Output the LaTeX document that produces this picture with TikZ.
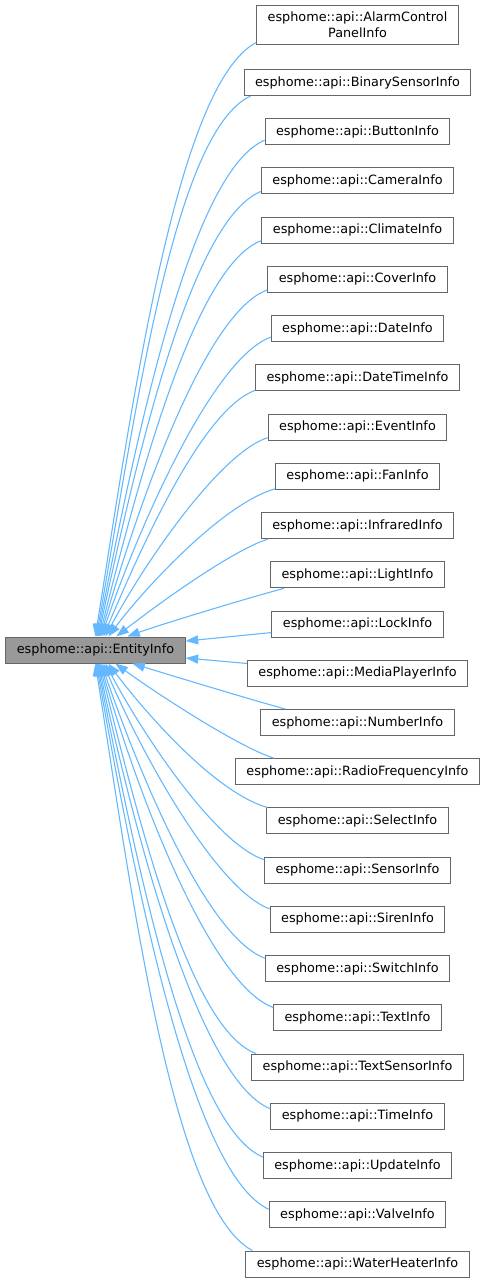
\documentclass[tikz,border=0pt]{standalone}
\usepackage{fontspec}
\setmainfont{DejaVu Sans}
\usepackage{xcolor}
\usepackage{tikz}
\usetikzlibrary{positioning, arrows.meta}
\definecolor{edgeblue}{HTML}{63B8FF}
\definecolor{boxgray}{HTML}{666666}
\definecolor{basefill}{HTML}{999999}

\begin{document}
\begin{tikzpicture}[x=1pt, y=1pt, font=\fontsize{12.8}{15.5}\selectfont, node distance=22.23pt,
  infobox/.style={draw=boxgray, fill=white, line width=1pt, inner xsep=11pt, inner ysep=3pt,
    minimum height=26pt, align=center},
  basebox/.style={infobox, fill=basefill},
  inherit/.style={edgeblue, line width=1.1pt, -{Triangle[length=12.5pt, width=9pt]}}]
  \useasboundingbox (0,0) rectangle (487,-1285);

  % derived classes, one column
  \node[infobox, minimum height=39pt] (alarm) at (357.5,-24.5) {esphome::api::AlarmControl\\PanelInfo};
  \node[infobox, below=24.5pt of alarm] (binary) {esphome::api::BinarySensorInfo};
  \node[infobox, below=of binary] (button) {esphome::api::ButtonInfo};
  \node[infobox, below=of button] (camera) {esphome::api::CameraInfo};
  \node[infobox, below=of camera] (climate) {esphome::api::ClimateInfo};
  \node[infobox, below=of climate] (cover) {esphome::api::CoverInfo};
  \node[infobox, below=of cover] (date) {esphome::api::DateInfo};
  \node[infobox, below=of date] (datetime) {esphome::api::DateTimeInfo};
  \node[infobox, below=of datetime] (event) {esphome::api::EventInfo};
  \node[infobox, below=of event] (fan) {esphome::api::FanInfo};
  \node[infobox, below=of fan] (infrared) {esphome::api::InfraredInfo};
  \node[infobox, below=of infrared] (light) {esphome::api::LightInfo};
  \node[infobox, below=of light] (lock) {esphome::api::LockInfo};
  \node[infobox, below=of lock] (media) {esphome::api::MediaPlayerInfo};
  \node[infobox, below=of media] (number) {esphome::api::NumberInfo};
  \node[infobox, below=of number] (radio) {esphome::api::RadioFrequencyInfo};
  \node[infobox, below=of radio] (select) {esphome::api::SelectInfo};
  \node[infobox, below=of select] (sensor) {esphome::api::SensorInfo};
  \node[infobox, below=of sensor] (siren) {esphome::api::SirenInfo};
  \node[infobox, below=of siren] (switch) {esphome::api::SwitchInfo};
  \node[infobox, below=of switch] (text) {esphome::api::TextInfo};
  \node[infobox, below=of text] (textsensor) {esphome::api::TextSensorInfo};
  \node[infobox, below=of textsensor] (time) {esphome::api::TimeInfo};
  \node[infobox, below=of time] (update) {esphome::api::UpdateInfo};
  \node[infobox, below=of update] (valve) {esphome::api::ValveInfo};
  \node[infobox, below=of valve] (waterheater) {esphome::api::WaterHeaterInfo};

  % base class
  \node[basebox] (entity) at (95.5,-650) {esphome::api::EntityInfo};

  % upper edges into the top side
  \draw[inherit] ([yshift=2pt]alarm.south west) .. controls +(208:90) and +(81:240) .. ([xshift=90pt]entity.north west);
  \draw[inherit] ([xshift=7pt]binary.south west) .. controls +(205:85) and +(80:225) .. ([xshift=91pt]entity.north west);
  \draw[inherit] ([yshift=5pt]button.south west) .. controls +(203:80) and +(79:205) .. ([xshift=92pt]entity.north west);
  \draw[inherit] ([yshift=3pt]camera.south west) .. controls +(202:75) and +(78:185) .. ([xshift=93pt]entity.north west);
  \draw[inherit] ([yshift=3pt]climate.south west) .. controls +(200:70) and +(76:165) .. ([xshift=94pt]entity.north west);
  \draw[inherit] ([yshift=3pt]cover.south west) .. controls +(200:65) and +(74:145) .. ([xshift=95pt]entity.north west);
  \draw[inherit] ([yshift=5pt]date.south west) .. controls +(200:60) and +(71:125) .. ([xshift=96pt]entity.north west);
  \draw[inherit] ([yshift=1pt]datetime.south west) .. controls +(200:55) and +(67:105) .. ([xshift=98pt]entity.north west);
  \draw[inherit] ([yshift=3pt]event.south west) .. controls +(198:50) and +(62:85) .. ([xshift=100pt]entity.north west);
  \draw[inherit] ([yshift=1pt]fan.south west) .. controls +(196:55) and +(53:60) .. ([xshift=103pt]entity.north west);
  \draw[inherit] ([xshift=7pt]infrared.south west) .. controls +(198:40) and +(38:45) .. ([xshift=111pt]entity.north west);
  \draw[inherit] ([xshift=14pt]light.south west) .. controls +(195:35) and +(20:35) .. ([xshift=122pt]entity.north west);

  % the two at the side
  \draw[inherit] (lock) -- (entity);
  \draw[inherit] (media) -- (entity);

  % lower edges into the bottom side
  \draw[inherit] ([xshift=25pt]number.north west) .. controls +(165:35) and +(-17:35) .. ([xshift=127pt]entity.south west);
  \draw[inherit] ([xshift=39pt]radio.north west) .. controls +(162:40) and +(-36:45) .. ([xshift=110pt]entity.south west);
  \draw[inherit] ([xshift=1pt]select.north west) .. controls +(164:55) and +(-53:60) .. ([xshift=103pt]entity.south west);
  \draw[inherit] ([yshift=-3pt]sensor.north west) .. controls +(162:50) and +(-62:85) .. ([xshift=100pt]entity.south west);
  \draw[inherit] ([yshift=-3pt]siren.north west) .. controls +(160:55) and +(-67:105) .. ([xshift=98pt]entity.south west);
  \draw[inherit] ([yshift=-3pt]switch.north west) .. controls +(160:60) and +(-71:125) .. ([xshift=96pt]entity.south west);
  \draw[inherit] ([yshift=-3pt]text.north west) .. controls +(160:65) and +(-74:145) .. ([xshift=95pt]entity.south west);
  \draw[inherit] ([xshift=5pt]textsensor.north west) .. controls +(160:70) and +(-76:165) .. ([xshift=94pt]entity.south west);
  \draw[inherit] ([yshift=-6pt]time.north west) .. controls +(158:75) and +(-78:185) .. ([xshift=93pt]entity.south west);
  \draw[inherit] ([yshift=-5pt]update.north west) .. controls +(157:80) and +(-79:205) .. ([xshift=92pt]entity.south west);
  \draw[inherit] ([yshift=-8pt]valve.north west) .. controls +(155:85) and +(-80:225) .. ([xshift=91pt]entity.south west);
  \draw[inherit] ([xshift=7pt]waterheater.north west) .. controls +(152:90) and +(-81:240) .. ([xshift=90pt]entity.south west);
\end{tikzpicture}
\end{document}
